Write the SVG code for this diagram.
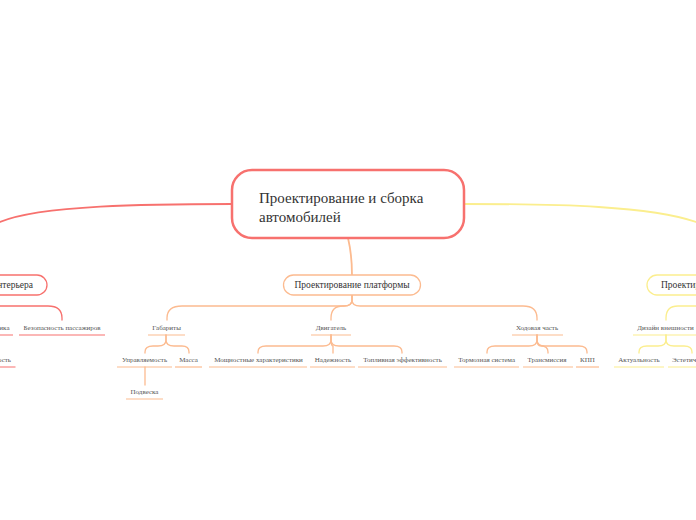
<svg xmlns="http://www.w3.org/2000/svg" width="696" height="520" viewBox="0 0 696 520">
<style>
.red{stroke:#f7716e;fill:none}
.org{stroke:#fcbb90;fill:none}
.yel{stroke:#fbee8e;fill:none}
.lab{font-family:"Liberation Serif",serif;font-size:7px;fill:#555;text-anchor:middle}
.mid{font-family:"Liberation Serif",serif;font-size:9.5px;fill:#333}
.big{font-family:"Liberation Serif",serif;font-size:15px;fill:#333}
</style>
<rect width="696" height="520" fill="#ffffff"/>
<g id="connectors" stroke-width="1.3" stroke-linecap="round">
  <path class="red" stroke-width="1.8" d="M232,204 C150,204 40,205 0,222 C-20,231 -25,250 -25,275"/>
  <path class="yel" stroke-width="1.8" d="M464,204 C560,204 650,206 696,222 C715,231 720,250 720,275"/>
  <path class="org" stroke-width="1.8" d="M348,238 Q352,255 352,275"/>
  <path class="org" d="M352,295 L352,300 Q352,306 344,306 L182,306 Q167,306 167,318 L167,320"/>
  <path class="org" d="M352,295 L352,300 Q352,306 344,306 L343,306 Q331,306 331,318 L331,320"/>
  <path class="org" d="M352,295 L352,300 Q352,306 360,306 L523,306 Q537,306 537,318 L537,320"/>
  <path class="org" d="M166,335 L166,340 Q166,346 158,346 L153,346 Q145,346 145,352 L145,353"/>
  <path class="org" d="M166,335 L166,340 Q166,346 174,346 L182,346 Q189,346 189,352 L189,353"/>
  <path class="org" d="M145,367 L145,385"/>
  <path class="org" d="M331,335 L331,340 Q331,346 323,346 L266,346 Q258,346 258,352 L258,353"/>
  <path class="org" d="M331,335 L331,340 Q331,346 333,346 Q333,346 333,352 L333,353"/>
  <path class="org" d="M331,335 L331,340 Q331,346 339,346 L394,346 Q402,346 402,352 L402,353"/>
  <path class="org" d="M537,335 L537,340 Q537,346 529,346 L495,346 Q487,346 487,352 L487,353"/>
  <path class="org" d="M537,335 L537,340 Q537,346 541,346 L541,346 Q548,346 548,352 L548,353"/>
  <path class="org" d="M537,335 L537,340 Q537,346 545,346 L579,346 Q587,346 587,352 L587,353"/>
  <path class="yel" d="M720,306 L678,306 Q666,306 666,318 L666,320"/>
  <path class="yel" d="M666,335 L666,340 Q666,346 658,346 L647,346 Q639,346 639,352 L639,353"/>
  <path class="yel" d="M666,335 L666,340 Q666,346 674,346 L684,346 Q692,346 692,352 L692,353"/>
  <path class="red" d="M-30,306 L48,306 Q62,306 62,318 L62,320"/>
</g>
<g id="root">
  <rect x="232" y="170" width="232" height="68" rx="20" fill="#fff" stroke="#f7716e" stroke-width="2.5"/>
  <text class="big" x="259" y="203">Проектирование и сборка</text>
  <text class="big" x="259" y="222">автомобилей</text>
</g>
<g id="n-interior">
  <rect x="-90" y="275" width="137" height="20" rx="10" fill="#fff" stroke="#f7716e" stroke-width="1.3"/>
  <text class="mid" x="33" y="288" text-anchor="end">Проектирование интерьера</text>
</g>
<g id="n-platform">
  <rect x="283.5" y="275" width="137" height="20" rx="10" fill="#fff" stroke="#fcbb90" stroke-width="1.3"/>
  <text class="mid" x="352" y="288" text-anchor="middle">Проектирование платформы</text>
</g>
<g id="n-exterior">
  <rect x="647" y="275" width="141" height="20" rx="10" fill="#fff" stroke="#fbee8e" stroke-width="1.3"/>
  <text class="mid" x="661" y="288">Проектирование экстерьера</text>
</g>
<g id="n-ergo">
  <text class="lab" x="9.5" y="330" style="text-anchor:end">Эргономика</text>
  <line class="red" x1="-30" y1="335" x2="13" y2="335" stroke-width="1.2"/>
</g>
<g id="n-func">
  <text class="lab" x="11" y="362" style="text-anchor:end">Функциональность</text>
  <line class="red" x1="-50" y1="367" x2="15.5" y2="367" stroke-width="1.2"/>
</g>
<g id="n-safety">
  <text class="lab" x="62" y="330">Безопасность пассажиров</text>
  <line class="red" x1="19" y1="335" x2="105" y2="335" stroke-width="1.2"/>
</g>
<g id="n-gabarity">
  <text class="lab" x="166.5" y="330">Габариты</text>
  <line class="org" x1="148" y1="335" x2="185" y2="335" stroke-width="1.2"/>
</g>
<g id="n-upr">
  <text class="lab" x="144.5" y="362">Управляемость</text>
  <line class="org" x1="117" y1="367" x2="172" y2="367" stroke-width="1.2"/>
</g>
<g id="n-massa">
  <text class="lab" x="188.5" y="362">Масса</text>
  <line class="org" x1="175" y1="367" x2="202" y2="367" stroke-width="1.2"/>
</g>
<g id="n-podveska">
  <text class="lab" x="144.5" y="394">Подвеска</text>
  <line class="org" x1="126" y1="399" x2="163" y2="399" stroke-width="1.2"/>
</g>
<g id="n-dvig">
  <text class="lab" x="331" y="330">Двигатель</text>
  <line class="org" x1="311" y1="335" x2="351" y2="335" stroke-width="1.2"/>
</g>
<g id="n-mosch">
  <text class="lab" x="258.5" y="362">Мощностные характеристики</text>
  <line class="org" x1="209" y1="367" x2="307" y2="367" stroke-width="1.2"/>
</g>
<g id="n-nadezh">
  <text class="lab" x="333" y="362">Надежность</text>
  <line class="org" x1="310" y1="367" x2="355" y2="367" stroke-width="1.2"/>
</g>
<g id="n-topl">
  <text class="lab" x="402.5" y="362">Топливная эффективность</text>
  <line class="org" x1="358" y1="367" x2="447" y2="367" stroke-width="1.2"/>
</g>
<g id="n-hod">
  <text class="lab" x="537" y="330">Ходовая часть</text>
  <line class="org" x1="512" y1="335" x2="563" y2="335" stroke-width="1.2"/>
</g>
<g id="n-torm">
  <text class="lab" x="486.7" y="362">Тормозная система</text>
  <line class="org" x1="454" y1="367" x2="519" y2="367" stroke-width="1.2"/>
</g>
<g id="n-trans">
  <text class="lab" x="547" y="362">Трансмиссия</text>
  <line class="org" x1="523" y1="367" x2="573" y2="367" stroke-width="1.2"/>
</g>
<g id="n-kpp">
  <text class="lab" x="587.5" y="362">КПП</text>
  <line class="org" x1="576" y1="367" x2="599" y2="367" stroke-width="1.2"/>
</g>
<g id="n-design">
  <text class="lab" x="665.5" y="330">Дизайн внешности</text>
  <line class="yel" x1="633" y1="335" x2="699" y2="335" stroke-width="1.2"/>
</g>
<g id="n-aktual">
  <text class="lab" x="639" y="362">Актуальность</text>
  <line class="yel" x1="614" y1="367" x2="664" y2="367" stroke-width="1.2"/>
</g>
<g id="n-estet">
  <text class="lab" x="672" y="362" style="text-anchor:start">Эстетичность</text>
  <line class="yel" x1="668" y1="367" x2="718" y2="367" stroke-width="1.2"/>
</g>
</svg>
